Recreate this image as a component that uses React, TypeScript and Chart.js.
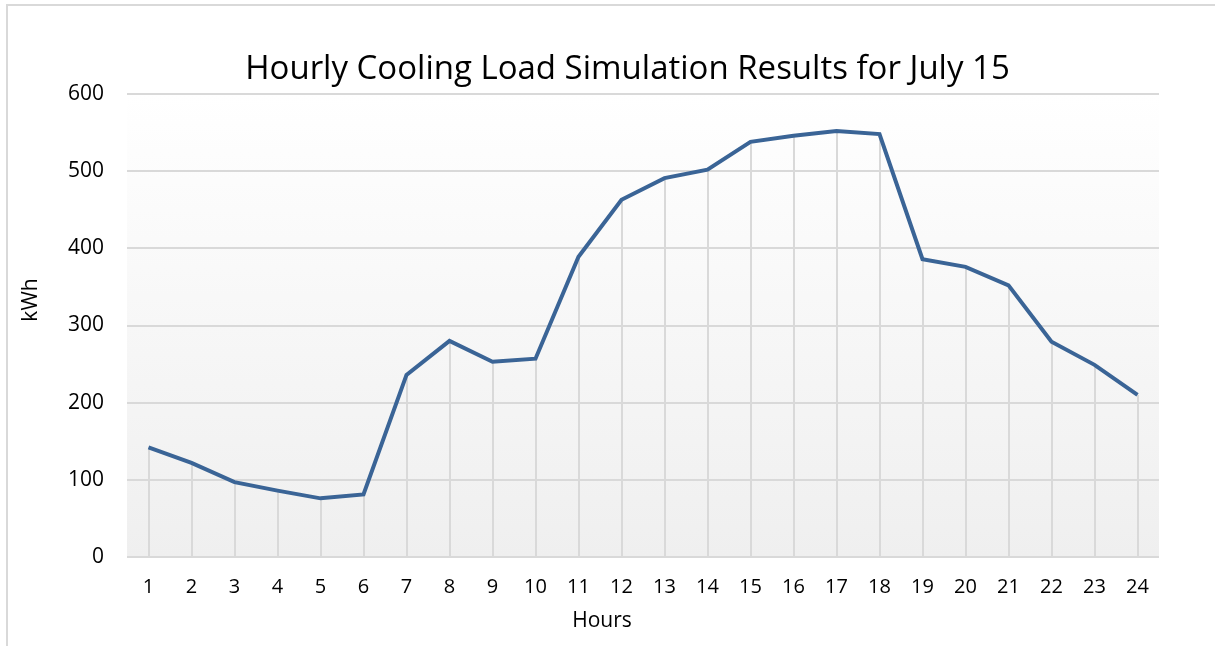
import React, { useEffect, useRef } from "react";
import { Chart, registerables } from "chart.js";

Chart.register(...registerables);

const hours = ["1","2","3","4","5","6","7","8","9","10","11","12","13","14","15","16","17","18","19","20","21","22","23","24"];
const coolingLoad = [142, 122, 97, 86, 76, 81, 236, 280, 253, 257, 389, 463, 491, 502, 538, 546, 552, 548, 386, 376, 352, 279, 249, 210];
const yTicks = [0, 100, 200, 300, 400, 500, 600];
const chartTitle = "Hourly Cooling Load Simulation Results for July 15";
const xTitle = "Hours";
const yTitle = "kWh";

const FONT = "Open Sans";

const bgPlugin = {
  id: "plotBg",
  beforeDraw(chart: any) {
    const { ctx, chartArea } = chart;
    if (!chartArea) return;
    const g = ctx.createLinearGradient(0, chartArea.top, 0, chartArea.bottom);
    g.addColorStop(0, "#ffffff");
    g.addColorStop(1, "#efefef");
    ctx.save();
    ctx.fillStyle = g;
    ctx.fillRect(chartArea.left, chartArea.top, chartArea.right - chartArea.left, chartArea.bottom - chartArea.top);
    ctx.restore();
  },
};

const dropLinePlugin = {
  id: "dropLines",
  beforeDatasetsDraw(chart: any) {
    const { ctx, chartArea } = chart;
    const meta = chart.getDatasetMeta(0);
    ctx.save();
    ctx.strokeStyle = "#d9d9d9";
    ctx.lineWidth = 2;
    meta.data.forEach((pt: any) => {
      ctx.beginPath();
      ctx.moveTo(Math.round(pt.x), pt.y);
      ctx.lineTo(Math.round(pt.x), chartArea.bottom);
      ctx.stroke();
    });
    ctx.restore();
  },
};

const titlesPlugin = {
  id: "titles",
  afterDraw(chart: any) {
    const { ctx } = chart;
    ctx.save();
    ctx.fillStyle = "#000";
    ctx.textAlign = "center";
    ctx.textBaseline = "alphabetic";
    ctx.font = `33px "${FONT}"`;
    ctx.fillText(chartTitle, 627.5, 79);
    ctx.font = `21px "${FONT}"`;
    ctx.fillText(xTitle, 602, 627);
    ctx.translate(37, 300);
    ctx.rotate(-Math.PI / 2);
    ctx.fillText(yTitle, 0, 0);
    ctx.restore();
  },
};

export default function App() {
  const ref = useRef<HTMLCanvasElement>(null);
  useEffect(() => {
    const chart = new Chart(ref.current!, {
      type: "line",
      data: {
        labels: hours,
        datasets: [
          {
            label: "Cooling load",
            data: coolingLoad,
            borderColor: "#3a6496",
            borderWidth: 4,
            pointRadius: 0,
            tension: 0,
            fill: false,
          },
        ],
      },
      options: {
        animation: false,
        responsive: false,
        layout: { padding: { left: 0, right: 56, top: 94, bottom: 0 } },
        plugins: {
          legend: { display: false },
          tooltip: { enabled: false },
          title: { display: false },
        },
        scales: {
          x: {
            offset: true,
            grid: { display: false, drawTicks: false },
            border: { display: false },
            ticks: { color: "#000", font: { family: FONT, size: 20 }, padding: 18, maxRotation: 0, autoSkip: false },
            afterFit: (s: any) => { s.height = 89; },
          },
          y: {
            min: 0,
            max: 600,
            afterBuildTicks: (s: any) => { s.ticks = yTicks.map((v) => ({ value: v })); },
            grid: { color: "#d9d9d9", lineWidth: 2, drawTicks: false },
            border: { display: false },
            ticks: { color: "#000", font: { family: FONT, size: 21 }, padding: 23 },
            afterFit: (s: any) => { s.width = 127; },
          },
        },
      },
      plugins: [bgPlugin, dropLinePlugin, titlesPlugin],
    });
    return () => chart.destroy();
  }, []);

  return (
    <div style={{ position: "fixed", left: 0, top: 0, width: 1215, height: 646, background: "#fff", overflow: "hidden" }}>
      <div style={{ position: "absolute", left: 6, top: 4, width: 1300, height: 800, borderTop: "2px solid #d9d9d9", borderLeft: "2px solid #d9d9d9" }} />
      <canvas ref={ref} width={1215} height={646} style={{ position: "absolute", left: 0, top: 0 }} />
    </div>
  );
}
